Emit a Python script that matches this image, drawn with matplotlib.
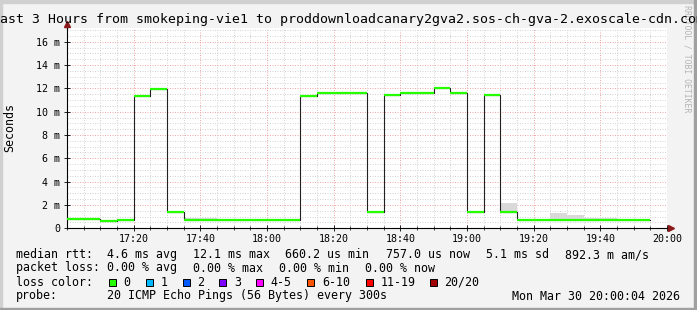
import matplotlib
matplotlib.use("Agg")
import matplotlib.pyplot as plt
from matplotlib.patches import Rectangle
import numpy as np

plt.rcParams["font.family"] = "DejaVu Sans Mono"

W, H = 697, 310

# ---------------------------------------------------------------------------
# Data (5 minute slots, values in milliseconds)
# ---------------------------------------------------------------------------
slot_times = ["17:00", "17:05", "17:10", "17:15", "17:20", "17:25", "17:30", "17:35",
              "17:40", "17:45", "17:50", "17:55", "18:00", "18:05", "18:10", "18:15",
              "18:20", "18:25", "18:30", "18:35", "18:40", "18:45", "18:50", "18:55",
              "19:00", "19:05", "19:10", "19:15", "19:20", "19:25", "19:30", "19:35",
              "19:40", "19:45", "19:50", "19:55"]
median_ms = [0.80, 0.80, 0.65, 0.74, 11.35, 11.97, 1.43, 0.74,
             0.74, 0.74, 0.74, 0.74, 0.74, 0.74, 11.35, 11.62,
             11.62, 11.62, 1.43, 11.43, 11.63, 11.63, 12.03, 11.63,
             1.43, 11.43, 1.43, 0.74, 0.74, 0.74, 0.74, 0.74,
             0.74, 0.74, 0.74, np.nan]
smoke_hi_ms = [0.80, 0.80, 0.65, 0.74, 11.35, 11.97, 1.43, 0.88,
               0.88, 0.74, 0.74, 0.74, 0.74, 0.74, 11.35, 11.62,
               11.62, 11.62, 1.43, 11.43, 11.63, 11.63, 12.03, 11.63,
               1.43, 11.43, 2.14, 0.74, 0.74, 1.31, 1.11, 0.88,
               0.88, 0.74, 0.74, np.nan]

x_tick_labels = ["17:20", "17:40", "18:00", "18:20", "18:40", "19:00", "19:20", "19:40", "20:00"]
y_tick_values = [0, 2, 4, 6, 8, 10, 12, 14, 16]

stats_rtt = ["4.6 ms avg", "12.1 ms max", "660.2 us min", "757.0 us now", "5.1 ms sd", "892.3 m am/s"]
stats_loss = ["0.00 % avg", "0.00 % max", "0.00 % min", "0.00 % now"]
loss_labels = ["0", "1", "2", "3", "4-5", "6-10", "11-19", "20/20"]
loss_colors = ["#26ff00", "#00b8ff", "#0059ff", "#7e00ff", "#ff00ff", "#ff5500", "#ff0000", "#a10000"]

title = "Last 3 Hours from smokeping-vie1 to proddownloadcanary2gva2.sos-ch-gva-2.exoscale-cdn.com"
probe = "20 ICMP Echo Pings (56 Bytes) every 300s"
stamp = "Mon Mar 30 20:00:04 2026"


def _minutes(hhmm):
    h, m = hhmm.split(":")
    return (int(h) - 17) * 60 + int(m)


def px(x, y):
    """pixel coords (from top-left) -> figure fraction"""
    return x / W, 1 - y / H


# ---------------------------------------------------------------------------
# Figure + frame
# ---------------------------------------------------------------------------
fig = plt.figure(figsize=(W / 100, H / 100), dpi=100, facecolor="#f3f3f3")

fig.patches.append(Rectangle((0, 0), 2 / W, 1, transform=fig.transFigure, color="#d0d0d0", zorder=0))
fig.patches.append(Rectangle((0, 1 - 2.5 / H), 1, 2.5 / H, transform=fig.transFigure, color="#d0d0d0", zorder=0))
fig.patches.append(Rectangle((1 - 3.5 / W, 0), 3.5 / W, 1, transform=fig.transFigure, color="#a0a0a0", zorder=0))
fig.patches.append(Rectangle((0, 0), 1, 2.5 / H, transform=fig.transFigure, color="#a0a0a0", zorder=0))

x0, y0 = 67, 228.3
pw, ph = 600, 200
ax = fig.add_axes([x0 / W, (H - y0) / H, pw / W, ph / H])
ax.set_facecolor("white")
ax.set_xlim(0, 180)
ax.set_ylim(0, 17.15)

# grid
dots = (0, (1, 1.5))
for m in range(0, 181, 5):
    if m % 20 == 0:
        ax.axvline(m, color="#f2a8a8", lw=0.72, ls=dots, zorder=1)
    else:
        ax.axvline(m, color="#d4d4d4", lw=0.72, ls=dots, zorder=1)
for v in np.arange(0.5, 17.1, 0.5):
    if v % 2 == 0:
        ax.axhline(v, color="#f2a8a8", lw=0.72, ls=dots, zorder=1)
    else:
        ax.axhline(v, color="#d4d4d4", lw=0.72, ls=dots, zorder=1)

# smoke + median
starts = np.array([_minutes(t) for t in slot_times], dtype=float)
med = np.array(median_ms, dtype=float)
hi = np.array(smoke_hi_ms, dtype=float)
edges = np.append(starts, starts[-1] + 5)
ax.fill_between(edges, np.append(med, med[-1]), np.append(hi, hi[-1]),
                step="post", color="#d9d9d9", lw=0, zorder=2)
ax.step(edges, np.append(med, med[-1]), where="post", color="#202020", lw=0.8, zorder=3)
ax.hlines(med, starts, starts + 5, color=loss_colors[0], lw=1.6, zorder=4)

# axes look
for s in ["top", "right"]:
    ax.spines[s].set_visible(False)
ax.spines["left"].set_linewidth(0.8)
ax.spines["bottom"].set_linewidth(0.8)
ax.set_xticks([_minutes(t) for t in x_tick_labels])
ax.set_xticks(np.arange(0, 181, 5), minor=True)
ax.set_xticklabels(x_tick_labels, fontsize=7.2)
ax.set_yticks(y_tick_values)
ax.set_yticks(np.arange(0, 17.1, 0.5), minor=True)
ax.set_yticklabels([f"{v} m" if v else "0" for v in y_tick_values], fontsize=7.2)
ax.tick_params(axis="both", which="major", direction="inout", length=4, width=0.6, pad=3)
ax.tick_params(axis="both", which="minor", direction="inout", length=2.5, width=0.5)
ax.tick_params(axis="y", which="minor", length=0)
ax.tick_params(axis="x", pad=2)

# axis arrows
ax.plot([0, 0], [17.15, 17.5], color="black", lw=0.8, clip_on=False)
ax.plot([180, 181.3], [0, 0], color="black", lw=0.8, clip_on=False)
ax.plot([0], [17.55], marker="^", ms=4, color="#8b1a1a", clip_on=False, zorder=6)
ax.plot([181.2], [0], marker=">", ms=4, color="#8b1a1a", clip_on=False, zorder=6)

# ---------------------------------------------------------------------------
# Texts
# ---------------------------------------------------------------------------
fig.text(*px(687, 5), "RRDTOOL / TOBI OETIKER", rotation=-90, fontsize=5.9,
         color="#b4b4b4", ha="center", va="top")
fig.text(*px(348.5, 19), title, fontsize=9.5, ha="center", va="center")
fig.text(*px(10, 127), "Seconds", fontsize=8.4, rotation=90, ha="center", va="center")

fs = 8.4
rows = {"rtt": 254.7, "loss": 268.0, "color": 282.3, "probe": 296.0}
fig.text(*px(16, rows["rtt"]), "median rtt:", fontsize=fs, va="center")
for xpos, s in zip([107.3, 193.3, 285, 386, 486, 565], stats_rtt):
    fig.text(*px(xpos, rows["rtt"]), s, fontsize=fs, va="center")

fig.text(*px(16, rows["loss"]), "packet loss:", fontsize=fs, va="center")
for xpos, s in zip([107.3, 193.3, 279.3, 365.3], stats_loss):
    fig.text(*px(xpos, rows["loss"]), s, fontsize=fs, va="center")

fig.text(*px(16, rows["color"]), "loss color:", fontsize=fs, va="center")
box_x = [108.7, 145.7, 182.7, 219.3, 256, 307.3, 366, 430]
for bx, lab, col in zip(box_x, loss_labels, loss_colors):
    fig.patches.append(Rectangle(px(bx, rows["color"] + 3.5), 7 / W, 7 / H, transform=fig.transFigure,
                                 facecolor=col, edgecolor="black", lw=0.7))
    fig.text(*px(bx + 14.5, rows["color"]), lab, fontsize=fs, va="center")

fig.text(*px(16, rows["probe"]), "probe:", fontsize=fs, va="center")
fig.text(*px(107.3, rows["probe"]), probe, fontsize=fs, va="center")
fig.text(*px(680, rows["probe"]), stamp, fontsize=fs, va="center", ha="right")

fig.savefig("out.png", dpi=100, facecolor=fig.get_facecolor())
